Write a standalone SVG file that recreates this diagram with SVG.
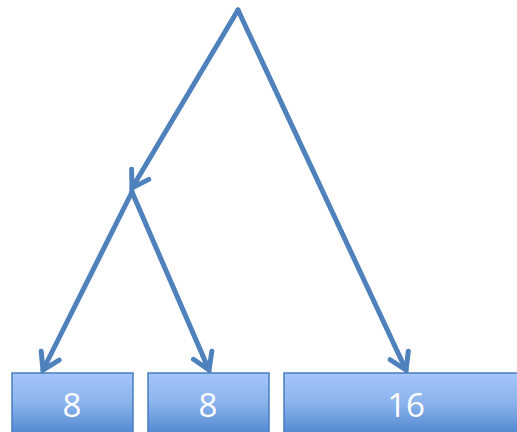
<svg xmlns="http://www.w3.org/2000/svg" width="517" height="432" viewBox="0 0 517 432">
<defs>
<linearGradient id="g" x1="0" y1="0" x2="0" y2="1">
<stop offset="0" stop-color="#a3c6fb"/>
<stop offset="0.5" stop-color="#8ab2ec"/>
<stop offset="1" stop-color="#4d86cf"/>
</linearGradient>
<marker id="arr" markerWidth="20" markerHeight="20" refX="10" refY="10" orient="auto" markerUnits="userSpaceOnUse" overflow="visible">
<path d="M-6,0 L10,10 L-6,20" fill="none" stroke="#4f81bd" stroke-width="5" stroke-linejoin="miter" stroke-linecap="round"/>
</marker>
</defs>
<style>
.box{fill:url(#g);stroke:#4a7ebb;stroke-width:1.5}
.lbl{font-family:"Open Sans","Liberation Sans",Arial,sans-serif;font-size:33px;fill:#ffffff;text-anchor:middle}
.c{fill:none;stroke:#4f81bd;stroke-width:5;stroke-linecap:round}
</style>
<g id="connectors">
<path class="c" d="M238,10 L132,188" marker-end="url(#arr)"/>
<path class="c" d="M238,10 L406,370" marker-end="url(#arr)"/>
<path class="c" d="M132,192 L43,370" marker-end="url(#arr)"/>
<path class="c" d="M132,192 L209,370" marker-end="url(#arr)"/>
</g>
<g id="node1"><rect class="box" x="12" y="373" width="121" height="62"/><text class="lbl" x="72" y="417">8</text></g>
<g id="node2"><rect class="box" x="148" y="373" width="121" height="62"/><text class="lbl" x="208" y="417">8</text></g>
<g id="node3"><rect class="box" x="284" y="373" width="236" height="62"/><text class="lbl" x="406" y="417">16</text></g>
</svg>
